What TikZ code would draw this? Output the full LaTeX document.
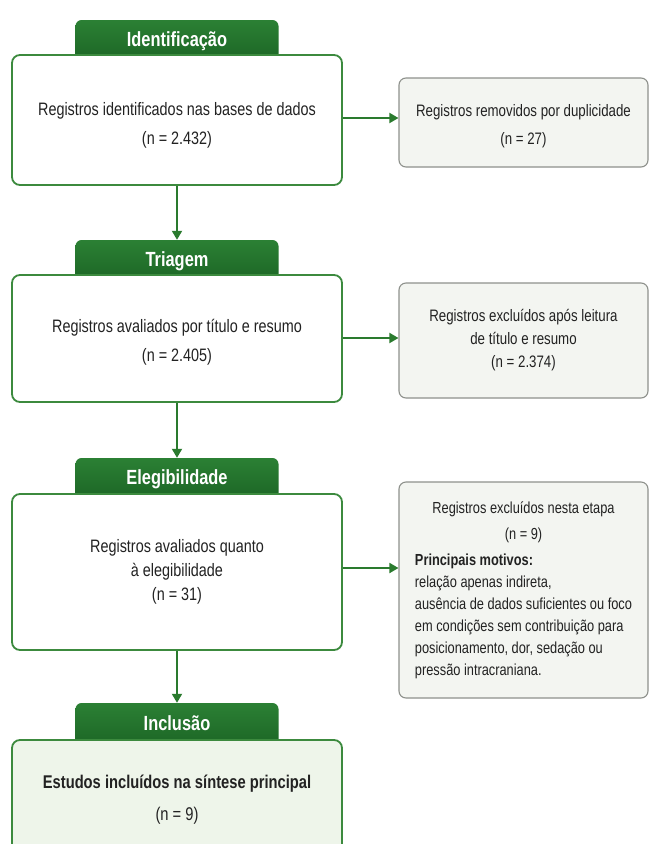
\documentclass[tikz,border=0pt]{standalone}
\usepackage{fontspec}
\setmainfont[FakeStretch=0.80]{Liberation Sans}
\usetikzlibrary{arrows.meta}
\definecolor{tabgreen}{HTML}{1C6525}
\definecolor{tabgreenlight}{HTML}{2B8034}
\definecolor{boxgreen}{HTML}{3C8A3E}
\definecolor{arrgreen}{HTML}{2A7A2E}
\definecolor{grayfill}{HTML}{F3F5F1}
\definecolor{grayline}{HTML}{8E918C}
\definecolor{incfill}{HTML}{EEF5EA}
\definecolor{txt}{HTML}{222222}
\newcommand{\dn}[1]{\rule{0pt}{#1}}
\tikzset{
  tab/.style={draw=none, rounded corners=6pt, top color=tabgreenlight, bottom color=tabgreen,
    minimum width=203pt, text=white, font=\fontsize{20.5}{22}\selectfont\bfseries},
  mainbox/.style={draw=boxgreen, line width=1.8pt, fill=white, rounded corners=8pt,
    minimum width=330pt, align=center, text=txt, font=\fontsize{18}{29}\selectfont},
  sidebox/.style={draw=grayline, line width=1.1pt, fill=grayfill, rounded corners=7pt,
    minimum width=249pt, align=center, text=txt, font=\fontsize{16.6}{23}\selectfont},
  flow/.style={draw=arrgreen, line width=1.8pt, -{Triangle[length=9pt,width=10pt]}}
}
\begin{document}
\begin{tikzpicture}[x=1pt,y=-1pt]
\useasboundingbox (0,0) rectangle (650,844);
\fill[white] (0,0) rectangle (650,844);

% Identificação
\node[tab, minimum height=42pt] (t1) at (177,41) {\raisebox{4pt}{Identificação}};
\node[mainbox, minimum height=130pt] (b1) at (177,120) {\dn{23pt}Registros identificados nas bases de dados\\(n = 2.432)};
\node[sidebox, minimum height=89pt, font=\fontsize{16.6}{28}\selectfont] (r1) at (523.5,122.5) {\dn{20pt}Registros removidos por duplicidade\\(n = 27)};

% Triagem
\node[tab, minimum height=42pt] (t2) at (177,261) {\raisebox{4pt}{Triagem}};
\node[mainbox, minimum height=127pt] (b2) at (177,338.5) {\dn{20pt}Registros avaliados por título e resumo\\(n = 2.405)};
\node[sidebox, minimum height=115pt] (r2) at (523.5,340.5) {Registros excluídos após leitura\\de título e resumo\\(n = 2.374)};

% Elegibilidade
\node[tab, minimum height=42pt] (t3) at (177,479) {\raisebox{4pt}{Elegibilidade}};
\node[mainbox, minimum height=156pt, font=\fontsize{18}{24}\selectfont] (b3) at (177,572) {Registros avaliados quanto\\à elegibilidade\\(n = 31)};
\node[sidebox, minimum height=216pt, font=\fontsize{16}{22}\selectfont] (r3) at (523.5,590) {%
\begin{tabular}{@{}l@{}}
\multicolumn{1}{@{}c@{}}{Registros excluídos nesta etapa}\\[4pt]
\multicolumn{1}{@{}c@{}}{(n = 9)}\\[4pt]
\textbf{Principais motivos:}\\
relação apenas indireta,\\
ausência de dados suficientes ou foco\\
em condições sem contribuição para\\
posicionamento, dor, sedação ou\\
pressão intracraniana.
\end{tabular}};

% Inclusão
\node[tab, minimum height=44pt] (t4) at (177,725) {\raisebox{4pt}{Inclusão}};
\node[mainbox, minimum height=124pt, fill=incfill, font=\fontsize{18.4}{32}\selectfont] (b4) at (177,802) {\raisebox{8pt}{\textbf{Estudos incluídos na síntese principal}}\\\raisebox{8pt}{(n = 9)}};

% connectors
\draw[flow] (b1.east |- 0,118) -- (r1.west |- 0,118);
\draw[flow] (b2.east |- 0,338) -- (r2.west |- 0,338);
\draw[flow] (b3.east |- 0,568) -- (r3.west |- 0,568);
\draw[flow] (b1.south) -- (t2.north);
\draw[flow] (b2.south) -- (t3.north);
\draw[flow] (b3.south) -- (t4.north);
\end{tikzpicture}
\end{document}
